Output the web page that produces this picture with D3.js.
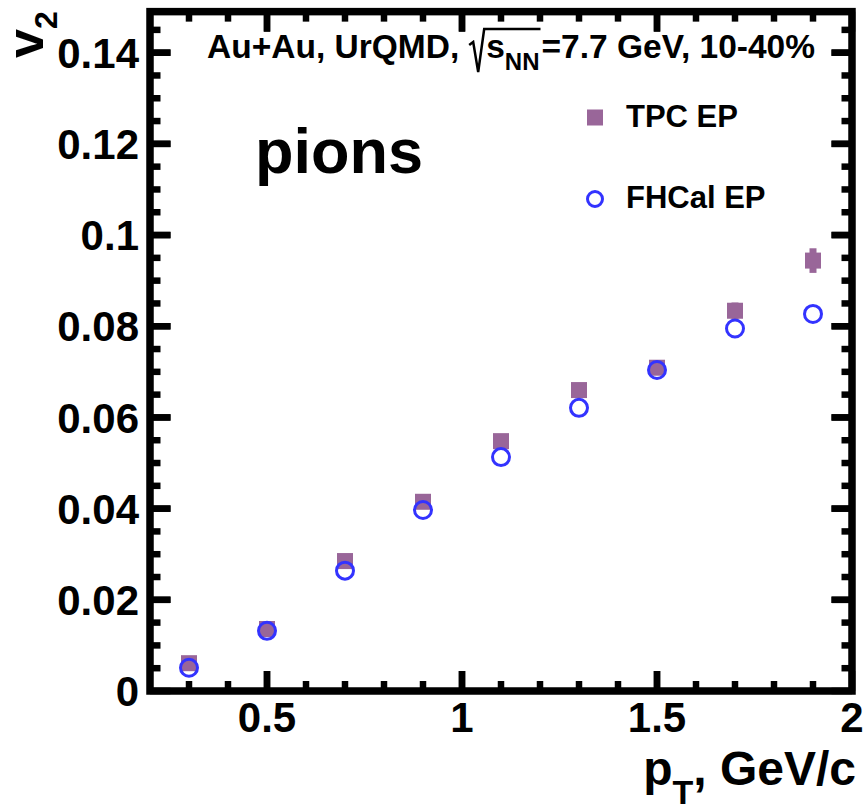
<!DOCTYPE html>
<html>
<head>
<meta charset="utf-8">
<script src="https://cdn.jsdelivr.net/npm/d3@7"></script>
<style>
  html, body { margin: 0; padding: 0; background: #fff; }
  svg { display: block; font-family: "Liberation Sans", Arial, sans-serif; font-weight: bold; }
  svg text { white-space: pre; }
</style>
</head>
<body>
<svg id="chart" width="865" height="810"></svg>
<script>
// pT bin centres (GeV/c)
const pt = [0.3, 0.5, 0.7, 0.9, 1.1, 1.3, 1.5, 1.7, 1.9];
// v2 of pions, TPC event plane
const v2Tpc = [0.0061, 0.0136, 0.0285, 0.0415, 0.0548, 0.0660, 0.0709, 0.0834, 0.0944];
const errTpc = [0.0004, 0.0005, 0.0006, 0.0007, 0.0008, 0.0010, 0.0012, 0.0018, 0.0027];
// v2 of pions, FHCal event plane
const v2Fhcal = [0.0051, 0.0132, 0.0264, 0.0397, 0.0513, 0.0621, 0.0704, 0.0795, 0.0827];
const errFhcal = [0.0004, 0.0005, 0.0006, 0.0007, 0.0008, 0.0009, 0.0010, 0.0012, 0.0014];

const xMajor = [0.5, 1, 1.5, 2];
const xMajorLabels = ["0.5", "1", "1.5", "2"];
const yMajor = [0, 0.02, 0.04, 0.06, 0.08, 0.1, 0.12, 0.14];
const yMajorLabels = ["0", "0.02", "0.04", "0.06", "0.08", "0.1", "0.12", "0.14"];
const xMinorStep = 0.1;
const yMinorStep = 0.005;

const svg = d3.select("#chart");
const frameL = 150, frameR = 852, frameB = 691;
const yMax = 0.149;
const x = d3.scaleLinear().domain([0.2, 2]).range([frameL, frameR]);
const y = d3.scaleLinear().domain([0, yMax]).range([frameB, frameB - yMax * 4559.5]);
const frameT = y(yMax);

const black = "#000";
const sqColor = "#996699";
const ciColor = "#3333ff";

// minor tick positions
const xMinor = d3.range(3, 20).map(i => i * xMinorStep);
const yMinor = d3.range(1, 30).map(i => i * yMinorStep).filter(v => v < yMax);

const ticks = svg.append("g").attr("stroke", black).attr("stroke-width", 6.5);
function isMajor(v, list) { return list.some(m => Math.abs(m - v) < 1e-9); }
// bottom and top axes (ticks point inward)
xMinor.concat(xMajor).forEach(v => {
  const len = isMajor(v, xMajor) ? 20 : 10;
  ticks.append("line").attr("x1", x(v)).attr("x2", x(v)).attr("y1", frameB).attr("y2", frameB - len);
  ticks.append("line").attr("x1", x(v)).attr("x2", x(v)).attr("y1", frameT).attr("y2", frameT + len);
});
// left and right axes
yMinor.concat(yMajor).forEach(v => {
  const len = isMajor(v, yMajor) ? 20.5 : 10.5;
  ticks.append("line").attr("y1", y(v)).attr("y2", y(v)).attr("x1", frameL).attr("x2", frameL + len);
  ticks.append("line").attr("y1", y(v)).attr("y2", y(v)).attr("x1", frameR).attr("x2", frameR - len);
});

// frame
svg.append("rect")
  .attr("x", frameL).attr("y", frameT)
  .attr("width", frameR - frameL).attr("height", frameB - frameT)
  .attr("fill", "none").attr("stroke", black).attr("stroke-width", 7.5);

// tick labels
svg.append("g").selectAll("text").data(xMajor).join("text")
  .attr("x", d => x(d)).attr("y", 732)
  .attr("text-anchor", "middle").attr("font-size", 42)
  .text((d, i) => xMajorLabels[i]);
svg.append("g").selectAll("text").data(yMajor).join("text")
  .attr("x", 139).attr("y", d => y(d)).attr("dy", "0.36em")
  .attr("text-anchor", "end").attr("font-size", 42)
  .text((d, i) => yMajorLabels[i]);

// axis titles
const xt = svg.append("text").attr("x", 856).attr("y", 785)
  .attr("text-anchor", "end").attr("font-size", 48);
xt.append("tspan").text("p");
xt.append("tspan").attr("font-size", 34).attr("dy", 19).text("T");
xt.append("tspan").attr("dy", -19).text(", GeV/c");

const yt = svg.append("text").attr("transform", "translate(43,58) rotate(-90)")
  .attr("font-size", 52);
yt.append("tspan").text("v");
yt.append("tspan").attr("font-size", 32).attr("dy", 14).text("2");

// markers: error bars drawn outside the marker only
const half = 8;
const gT = svg.append("g");
pt.forEach((p, i) => {
  const cy = y(v2Tpc[i]), e = y(v2Tpc[i] - errTpc[i]) - cy;
  if (e > half) {
    gT.append("line").attr("x1", x(p)).attr("x2", x(p)).attr("y1", cy - e).attr("y2", cy + e)
      .attr("stroke", sqColor).attr("stroke-width", 7);
  }
});
gT.selectAll("rect").data(pt).join("rect")
  .attr("x", d => x(d) - half).attr("y", (d, i) => y(v2Tpc[i]) - half)
  .attr("width", 2 * half).attr("height", 2 * half).attr("fill", sqColor);

const gF = svg.append("g");
const r = 8.5;
pt.forEach((p, i) => {
  const cy = y(v2Fhcal[i]), e = y(v2Fhcal[i] - errFhcal[i]) - cy;
  if (e > r + 1.5) {
    gF.append("line").attr("x1", x(p)).attr("x2", x(p)).attr("y1", cy - e).attr("y2", cy - r - 1.5)
      .attr("stroke", ciColor).attr("stroke-width", 3);
    gF.append("line").attr("x1", x(p)).attr("x2", x(p)).attr("y1", cy + r + 1.5).attr("y2", cy + e)
      .attr("stroke", ciColor).attr("stroke-width", 3);
  }
});
gF.selectAll("circle").data(pt).join("circle")
  .attr("cx", d => x(d)).attr("cy", (d, i) => y(v2Fhcal[i])).attr("r", r)
  .attr("fill", "none").attr("stroke", ciColor).attr("stroke-width", 3);

// header line with sqrt(s_NN)
const hdr = svg.append("g").attr("font-size", 33.5);
const part1 = hdr.append("text").attr("x", 207).attr("y", 58).text("Au+Au, UrQMD,");
const w1 = part1.node().getComputedTextLength();
const sx = 207 + w1 + 10;
const sText = hdr.append("text").attr("x", sx + 17).attr("y", 58).text("s");
const ws = sText.node().getComputedTextLength();
const nn = hdr.append("text").attr("x", sx + 17 + ws).attr("y", 70).attr("font-size", 24).text("NN");
const wn = nn.node().getComputedTextLength();
hdr.append("path")
  .attr("d", `M${sx},45 L${sx + 4},42 L${sx + 9},72 L${sx + 15},29 L${sx + 18 + ws + wn},29`)
  .attr("fill", "none").attr("stroke", black).attr("stroke-width", 2.5);
hdr.append("text").attr("x", sx + 19 + ws + wn).attr("y", 58).text("=7.7 GeV, 10-40%");

// panel label
svg.append("text").attr("x", 255).attr("y", 173).attr("font-size", 63).text("pions");

// legend
const leg = svg.append("g").attr("font-size", 31);
leg.append("rect").attr("x", 587).attr("y", 109.5).attr("width", 16).attr("height", 16).attr("fill", sqColor);
leg.append("text").attr("x", 626).attr("y", 127).text("TPC EP");
leg.append("circle").attr("cx", 595).attr("cy", 199).attr("r", 7.5)
  .attr("fill", "none").attr("stroke", ciColor).attr("stroke-width", 3);
leg.append("text").attr("x", 626).attr("y", 208).text("FHCal EP");
</script>
</body>
</html>
